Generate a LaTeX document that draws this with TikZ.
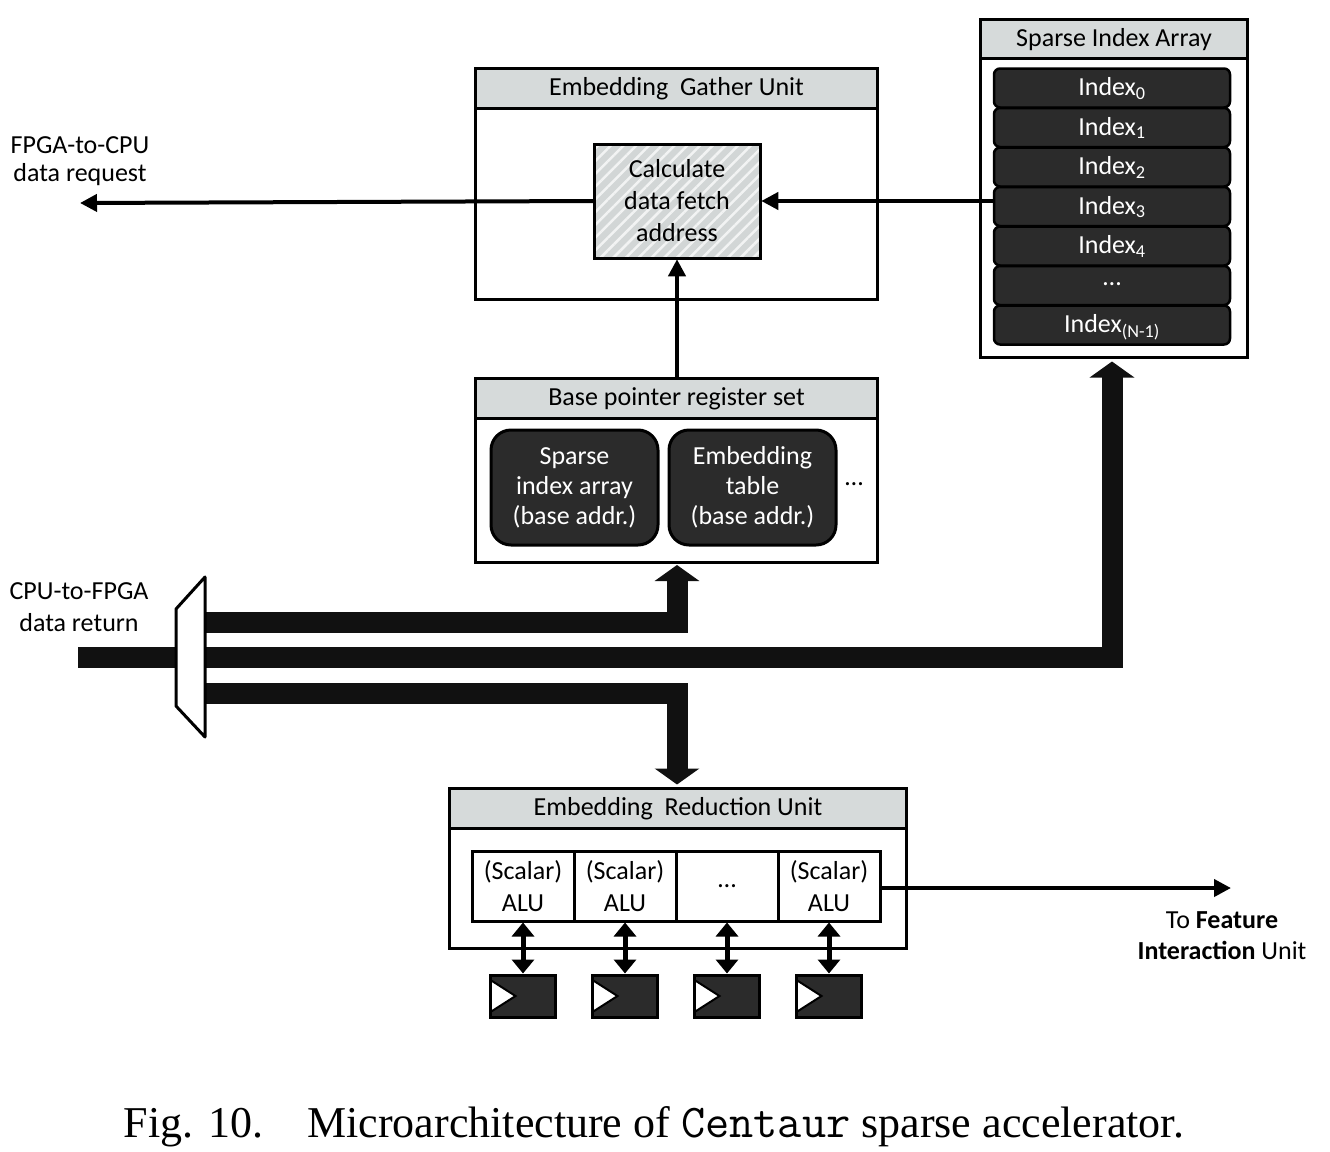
\documentclass[tikz,border=0pt]{standalone}
\usepackage{fontspec}
\setmainfont{Carlito}
\newfontfamily\capserif{Liberation Serif}
\usetikzlibrary{arrows.meta,positioning,patterns.meta}
\definecolor{hdgray}{HTML}{D6DADA}
\definecolor{calcgray}{HTML}{D2D6D6}
\definecolor{darkfill}{HTML}{2B2B2B}
\definecolor{busblack}{HTML}{111111}
\newcommand\diagfont{\fontsize{26}{32}\selectfont}

\begin{document}
\begin{tikzpicture}[x=1pt,y=-1pt,
  box/.style={draw,line width=3pt,anchor=north west},
  head/.style={box,fill=hdgray,minimum height=40pt,text depth=4pt},
  calcbox/.style={draw,line width=3pt,minimum width=166pt,minimum height=114pt,align=center,
    preaction={fill=calcgray},pattern={Lines[angle=45,distance=9pt,line width=2.5pt]},pattern color=white!70!calcgray},
  idx/.style={draw,line width=2.5pt,fill=darkfill,text=white,rounded corners=6pt,minimum width=236pt,minimum height=39pt,
    text depth=3pt},
  basereg/.style={draw,line width=3pt,fill=darkfill,text=white,rounded corners=20pt,align=center,
    minimum width=167pt,minimum height=115pt},
  alu/.style={draw,line width=3pt,fill=white,align=center,minimum width=102pt,minimum height=70pt},
  flop/.style={draw,line width=3pt,fill=darkfill,minimum width=65pt,minimum height=42pt,
    path picture={\draw[fill=white,line width=2pt] ([yshift=-5pt]path picture bounding box.north west)
      -- ([xshift=25pt]path picture bounding box.west) -- ([yshift=5pt]path picture bounding box.south west) -- cycle;}},
  wire/.style={line width=4pt,-{Triangle[width=17pt,length=17pt]}},
  dwire/.style={line width=5pt,{Triangle[width=22pt,length=14pt]}-{Triangle[width=22pt,length=14pt]}},
  bus/.style={line width=21pt,color=busblack},
  busarrow/.style={bus,-{Triangle[width=44pt,length=16pt]}}
]
\tikzstyle{every node}+=[inner sep=0pt,font=\diagfont]
\useasboundingbox (0,0) rectangle (1330,1151);

\node[box,minimum width=402pt,minimum height=231pt] (egu) at (474,67) {};
\node[head,minimum width=402pt] (egu-h) at (474,67) {Embedding\ \ Gather Unit};
\node[calcbox] (calc) at (677,201) {Calculate\\data fetch\\address};

\node[box,minimum width=267pt,minimum height=338pt] (sia) at (979,18) {};
\node[head,minimum width=267pt,minimum height=39pt] (sia-h) at (979,18) {Sparse Index Array};
\foreach \t [count=\i from 0] in {Index\textsubscript{0},Index\textsubscript{1},Index\textsubscript{2},
    Index\textsubscript{3},Index\textsubscript{4},\dots,Index\textsubscript{(N-1)}}
  \node[idx] (idx\i) at (1112,{88+39.5*\i}) {\t};

\node[box,minimum width=402pt,minimum height=184pt] (bpr) at (474,377) {};
\node[head,minimum width=402pt] (bpr-h) at (474,377) {Base pointer register set};
\node[basereg,font=\fontsize{26}{30}\selectfont] (bsia) at (574.5,487.5) {Sparse\\index array\\(base addr.)};
\node[basereg,font=\fontsize{26}{30}\selectfont,right=8pt of bsia] (bemb) {Embedding\\table\\(base addr.)};
\node (bdots) at (854,484) {\dots};

\node[box,minimum width=457pt,minimum height=160pt] (eru) at (448,787) {};
\node[head,minimum width=457pt] (eru-h) at (448,787) {Embedding\ \ Reduction Unit};
\foreach \t [count=\i] in {{(Scalar)\\ALU},{(Scalar)\\ALU},{\dots},{(Scalar)\\ALU}} {
  \node[alu] (alu\i) at ({421+102*\i},886) {\t};
  \node[flop,below=51pt of alu\i] (reg\i) {};
  \draw[dwire] (alu\i.south) -- (reg\i.north);
}

\node[align=center,font=\fontsize{26}{28}\selectfont] (req) at (80,161) {FPGA-to-CPU\\data request};
\node[align=center] (ret) at (79,607) {CPU-to-FPGA\\data return};
\node[align=center,font=\fontsize{26}{31}\selectfont] (fiu) at (1222,936) {To \textbf{Feature}\\\textbf{Interaction} Unit};

\coordinate (req-end) at (80,203);
\coordinate (fiu-end) at (1231,888);
\draw[wire] (calc.west) -- (req-end);
\draw[wire] (calc.east -| idx3.west) -- (calc.east);
\draw[wire] (bpr.north -| calc.south) -- (calc.south);
\draw[wire] (alu4.east |- fiu-end) -- (fiu-end);

\coordinate (ret-in) at (78,657.5);
\coordinate (mux-in) at (176,657.5);
\coordinate (mux-o1) at (205,622.5);
\coordinate (mux-o2) at (205,657.5);
\coordinate (mux-o3) at (205,693);
\draw[bus] (ret-in) -- (mux-in);
\draw[busarrow,shorten >=1pt] (mux-o1) -| (bpr.south -| calc.south);
\draw[busarrow,shorten >=2.5pt] (mux-o2) -| ([xshift=-2pt]sia.south);
\draw[busarrow,shorten >=2.5pt] (mux-o3) -| (eru.north -| calc.south);
\draw[line width=3pt,fill=white,line join=round] (176,609) -- (205,577) -- (205,737) -- (176,706) -- cycle;

\node (cap) at (654,1127) {\capserif\fontsize{44}{50}\selectfont Fig. 10.\quad Microarchitecture of {\ttfamily\fontsize{47}{50}\selectfont Centaur} sparse accelerator.};
\end{tikzpicture}
\end{document}
